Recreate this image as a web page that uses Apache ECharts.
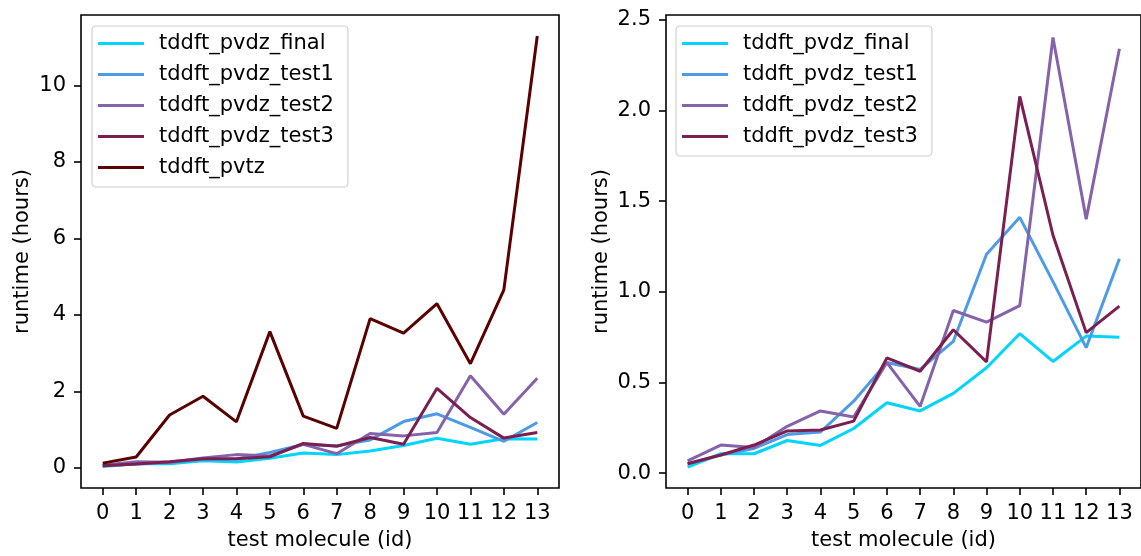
<!DOCTYPE html>
<html>
<head>
<meta charset="utf-8">
<script src="https://cdn.jsdelivr.net/npm/echarts@6/dist/echarts.min.js"></script>
<style>html,body{margin:0;padding:0;background:#fff}#c{width:1141px;height:556px}</style>
</head>
<body>
<div id="c"></div>
<script>
const molecules = [0,1,2,3,4,5,6,7,8,9,10,11,12,13];
const pvdzFinal = [0.033,0.107,0.107,0.18,0.153,0.246,0.388,0.343,0.44,0.581,0.769,0.616,0.756,0.75];
const pvdzTest1 = [0.052,0.10,0.136,0.213,0.227,0.397,0.61,0.572,0.727,1.207,1.411,1.056,0.692,1.182];
const pvdzTest2 = [0.068,0.155,0.141,0.258,0.343,0.31,0.61,0.368,0.897,0.833,0.924,2.403,1.401,2.341];
const pvdzTest3 = [0.052,0.10,0.155,0.233,0.238,0.287,0.636,0.562,0.791,0.614,2.078,1.312,0.775,0.921];
const pvtz = [0.12,0.28,1.38,1.87,1.20,3.56,1.35,1.03,3.90,3.52,4.29,2.72,4.65,11.29];
const leftYTicks = [0,2,4,6,8,10];
const rightYTicks = [0,0.5,1.0,1.5,2.0,2.5];
const seriesNames = ['tddft_pvdz_final','tddft_pvdz_test1','tddft_pvdz_test2','tddft_pvdz_test3','tddft_pvtz'];
const colors = ['#00d4ff','#4d9be6','#8463ab','#7b1f50','#5a0000'];

const FONT = 'DejaVu Sans';
const FS = 21;
const leftData = [pvdzFinal,pvdzTest1,pvdzTest2,pvdzTest3,pvtz];
const rightData = [pvdzFinal,pvdzTest1,pvdzTest2,pvdzTest3];

function mkX(idx){
  return {
    gridIndex: idx, type:'value', min:-0.65, max:13.65,
    name:'test molecule (id)', nameLocation:'middle', nameGap:42, nameMoveOverlap:false,
    nameTextStyle:{fontFamily:FONT,fontSize:FS,color:'#000'},
    axisLine:{show:false, onZero:false}, splitLine:{show:false},
    axisTick:{show:true, inside:false, length:7, lineStyle:{color:'#000',width:1.6}, customValues: molecules},
    axisLabel:{fontFamily:FONT,fontSize:FS,color:'#000',margin:15, customValues: molecules}
  };
}
function mkY(idx,min,max,ticks,fmt){
  return {
    gridIndex: idx, type:'value', min:min, max:max,
    name:'runtime (hours)', nameLocation:'middle', nameGap: idx===0?48:54, nameRotate:90, nameMoveOverlap:false,
    nameTextStyle:{fontFamily:FONT,fontSize:FS,color:'#000'},
    axisLine:{show:false, onZero:false}, splitLine:{show:false},
    axisTick:{show:true, inside:false, length:7, lineStyle:{color:'#000',width:1.6}, customValues: ticks},
    axisLabel:{fontFamily:FONT,fontSize:FS,color:'#000',margin:15, customValues: ticks, formatter: fmt}
  };
}
function mkLegend(left, names){
  return {
    orient:'vertical', left:left, top:26, data:names,
    icon:'rect', itemWidth:46, itemHeight:3, itemGap:10,
    padding:[7,14,9,6],
    backgroundColor:'rgba(255,255,255,0.8)', borderColor:'#d0d0d0', borderWidth:1.2, borderRadius:4,
    textStyle:{fontFamily:FONT,fontSize:FS,color:'#000',lineHeight:21,padding:[0,0,0,10]}
  };
}
const series = [];
leftData.forEach((d,i)=>{
  series.push({name:seriesNames[i], type:'line', xAxisIndex:0, yAxisIndex:0,
    data: molecules.map((m,j)=>[m,d[j]]), symbol:'none', smooth:false,
    lineStyle:{color:colors[i],width:3}, itemStyle:{color:colors[i]}, z: 2+i});
});
rightData.forEach((d,i)=>{
  series.push({name:seriesNames[i], type:'line', xAxisIndex:1, yAxisIndex:1,
    data: molecules.map((m,j)=>[m,d[j]]), symbol:'none', smooth:false,
    lineStyle:{color:colors[i],width:3}, itemStyle:{color:colors[i]}, z: 2+i});
});

const chart = echarts.init(document.getElementById('c'), null, {renderer:'canvas'});
chart.setOption({
  animation:false,
  backgroundColor:'#fff',
  grid:[
    {left:81, top:15, width:478, height:478, show:true, borderColor:'#000', borderWidth:1.6, backgroundColor:'transparent'},
    {left:666, top:15, width:478, height:478, show:true, borderColor:'#000', borderWidth:1.6, backgroundColor:'transparent'}
  ],
  xAxis:[mkX(0), mkX(1)],
  yAxis:[
    mkY(0,-0.53,11.84,leftYTicks,v=>String(v)),
    mkY(1,-0.082,2.527,rightYTicks,v=>v.toFixed(1))
  ],
  legend:[mkLegend(92, seriesNames), mkLegend(676, seriesNames.slice(0,4))],
  series: series
});
</script>
</body>
</html>
